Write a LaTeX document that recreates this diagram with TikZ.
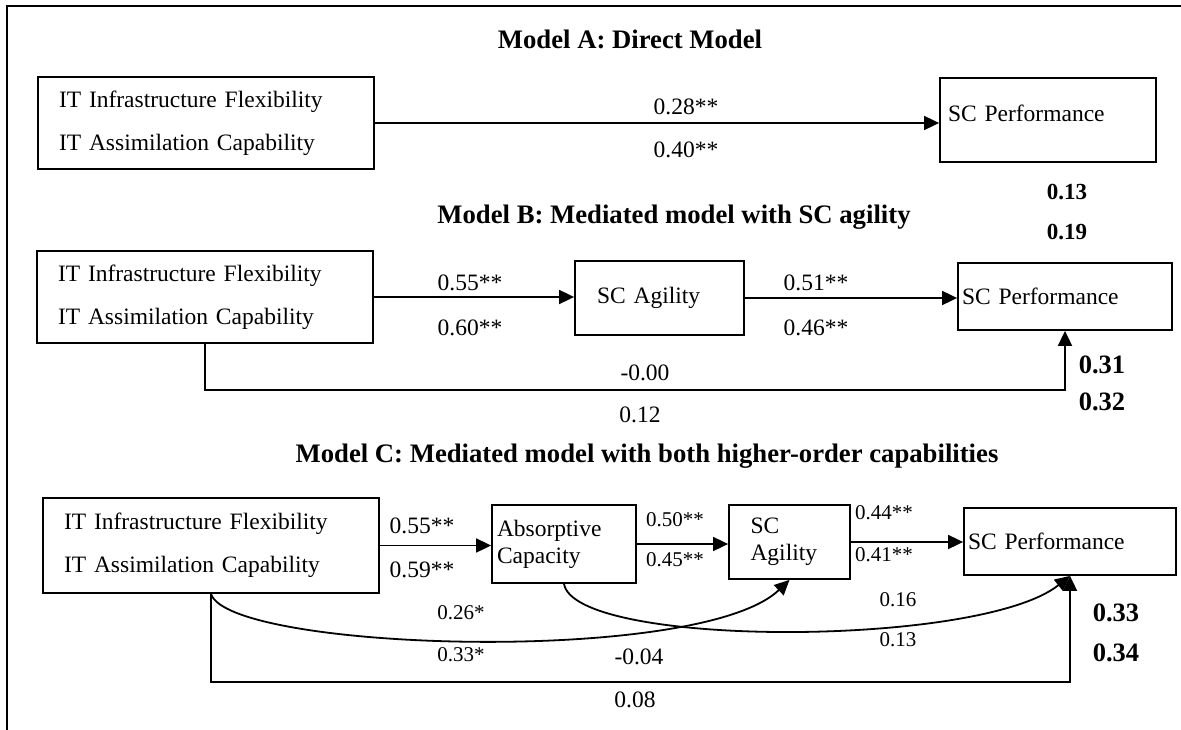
\documentclass[tikz,border=0pt]{standalone}
\usepackage{fontspec}
\setmainfont{Liberation Serif}
\usetikzlibrary{arrows.meta}

\begin{document}
\begin{tikzpicture}[
                x = 1pt, y = -1pt,
                every node/.style = {font = \fontsize{23.5}{27}\selectfont, inner sep = 0pt},
                title/.style = {font = \fontsize{26.7}{32}\selectfont\bfseries},
                small/.style = {font = \fontsize{21}{25}\selectfont},
                rsq/.style = {font = \fontsize{26.5}{30}\selectfont\bfseries},
                box/.style = {draw, line width = 1.8pt, align = left},
                inbox/.style = {box, minimum width = 336pt, minimum height = 92pt, text width = 294pt,
                                font = \fontsize{23.5}{43}\selectfont},
                arr/.style = {draw, line width = 1.8pt, -{Triangle[length = 15pt, width = 14pt]}},
            ]
            \useasboundingbox (0, 0) rectangle (1181, 730);
            \draw[line width = 2.5pt] (7, 730) -- (7, 6) -- (1181, 6);

            % Model A
            \node (TA) at (630, 39) [title] {Model A: Direct Model};
            \node (InA) at (206, 123) [inbox] {IT Infrastructure Flexibility\\IT Assimilation Capability};
            \node (PerfA) at (1048, 120) [box, minimum width = 216pt, minimum height = 84pt, text width = 200pt] {\raisebox{14pt}{SC Performance}};

            \path[arr] (InA.east) -- (PerfA.west |- InA.east);

            \node (cA1) at (686, 107) {0.28**};
            \node (cA2) at (686, 150) {0.40**};
            \node (rA1) at (1067, 192) [rsq, font = \fontsize{23}{27}\selectfont\bfseries] {0.13};
            \node (rA2) at (1067, 232) [rsq, font = \fontsize{23}{27}\selectfont\bfseries] {0.19};

            % Model B
            \node (TB) at (674, 217) [title] {Model B: Mediated model with SC agility};
            \node (InB) at (205, 297) [inbox] {IT Infrastructure Flexibility\\IT Assimilation Capability};
            \node (AgiB) at (659.5, 298) [box, minimum width = 169pt, minimum height = 74pt, text width = 125pt] {\raisebox{-4pt}{SC Agility}};
            \node (PerfB) at (1065, 296.5) [box, minimum width = 214pt, minimum height = 67pt, text width = 206pt] {SC Performance};
            \coordinate (LB) at (205, 390);

            \path[arr] (InB.east) -- (AgiB.west |- InB.east);
            \path[arr] (AgiB.east) -- (PerfB.west |- AgiB.east);
            \path[arr] (InB.south) -- (LB) -| (PerfB.south);

            \node (cB1) at (470, 283) {0.55**};
            \node (cB2) at (470, 328) {0.60**};
            \node (cB3) at (816, 283) {0.51**};
            \node (cB4) at (816, 328) {0.46**};
            \node (cB5) at (645, 373) {-0.00};
            \node (cB6) at (640, 415) {0.12};
            \node (rB1) at (1102, 365) [rsq] {0.31};
            \node (rB2) at (1102, 402) [rsq] {0.32};

            % Model C
            \node (TC) at (647, 456) [title] {Model C: Mediated model with both higher-order capabilities};
            \node (InC) at (211, 545.5) [inbox, minimum height = 95pt] {IT Infrastructure Flexibility\\IT Assimilation Capability};
            \node (AbsC) at (564, 544) [box, minimum width = 144pt, minimum height = 78pt, text width = 134pt] {Absorptive\\Capacity};
            \node (AgiC) at (789.5, 542) [box, minimum width = 121pt, minimum height = 74pt, text width = 78pt] {SC\\Agility};
            \node (PerfC) at (1070, 541.5) [box, minimum width = 212pt, minimum height = 67pt, text width = 204pt] {SC Performance};
            \coordinate (LC) at (211, 682);

            \path[arr] (InC.east) -- (AbsC.west |- InC.east);
            \path[arr] (AbsC.east) -- (AgiC.west |- AbsC.east);
            \path[arr] (AgiC.east) -- (PerfC.west |- AgiC.east);
            \path[arr] (InC.south) .. controls +(18, 57) and +(-90, 86) .. (AgiC.south);
            \path[arr] (AbsC.south) .. controls +(11, 64) and +(-90, 72) .. (PerfC.south);
            \path[arr] (InC.south) -- (LC) -| (PerfC.south);

            \node (cC1) at (422, 526) {0.55**};
            \node (cC2) at (422, 570) {0.59**};
            \node (cC3) at (675, 520) [small] {0.50**};
            \node (cC4) at (675, 560) [small] {0.45**};
            \node (cC5) at (884, 513) [small] {0.44**};
            \node (cC6) at (884, 555) [small] {0.41**};
            \node (cC7) at (461, 613) [small] {0.26*};
            \node (cC8) at (461, 655) [small] {0.33*};
            \node (cC9) at (898, 600) [small] {0.16};
            \node (cC10) at (898, 640) [small] {0.13};
            \node (cC11) at (639, 657) {-0.04};
            \node (cC12) at (635, 700) {0.08};
            \node (rC1) at (1116, 613) [rsq] {0.33};
            \node (rC2) at (1116, 653) [rsq] {0.34};
        \end{tikzpicture}
\end{document}
